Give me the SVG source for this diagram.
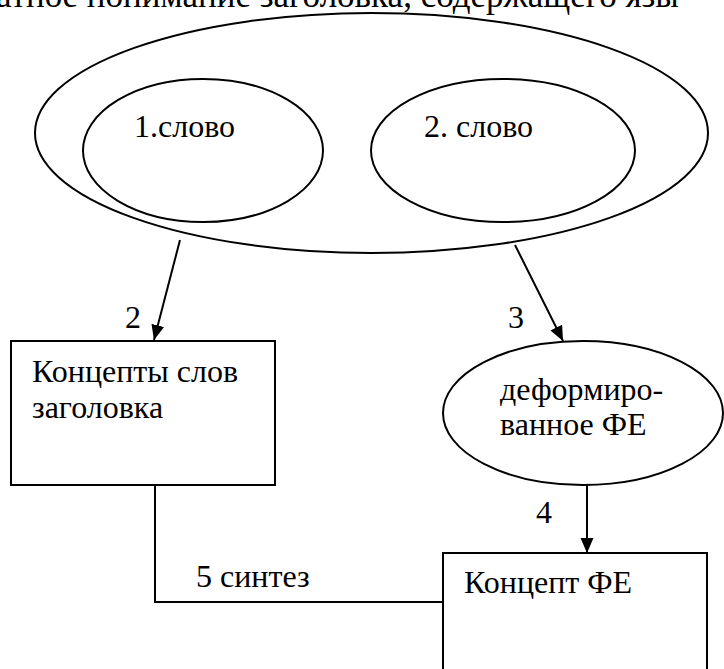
<svg xmlns="http://www.w3.org/2000/svg" width="724" height="669" viewBox="0 0 724 669">
<defs>
<marker id="ah" markerUnits="userSpaceOnUse" markerWidth="16" markerHeight="16" viewBox="0 0 16 16" refX="15" refY="8" orient="auto">
<path d="M0,1.5 L15,8 L0,14.5 Z" fill="#000"/>
</marker>
</defs>
<rect width="724" height="669" fill="#fff"/>
<text id="title" x="-4" y="7" font-family="Times New Roman" font-size="35">атное понимание заголовка, содержащего язы</text>
<g stroke="#000" stroke-width="2">
<g id="headline" fill="none">
<ellipse cx="371.5" cy="133" rx="336.5" ry="120"/>
</g>
<g id="word1" fill="none">
<ellipse cx="203" cy="150.5" rx="120" ry="71.5"/>
</g>
<g id="word2" fill="none">
<ellipse cx="503" cy="150.5" rx="132" ry="71.5"/>
</g>
<g id="concepts" fill="#fff">
<rect x="11" y="341" width="264" height="144"/>
</g>
<g id="deformed" fill="#fff">
<ellipse cx="583" cy="413" rx="140" ry="72"/>
</g>
<g id="conceptFE" fill="#fff">
<rect x="443" y="553" width="264" height="144"/>
</g>
<g id="connectors" fill="none">
<line x1="180" y1="240" x2="154" y2="340" marker-end="url(#ah)"/>
<line x1="515" y1="245" x2="563" y2="341" marker-end="url(#ah)"/>
<line x1="587" y1="485" x2="587" y2="553" marker-end="url(#ah)"/>
<polyline points="155,485 155,602 443,602"/>
</g>
</g>
<text x="134" y="137" font-family="Times New Roman" font-size="32">1.слово</text>
<text x="424" y="137" font-family="Times New Roman" font-size="32">2. слово</text>
<text x="32" y="382" font-family="Times New Roman" font-size="32">Концепты слов</text>
<text x="32" y="418" font-family="Times New Roman" font-size="32">заголовка</text>
<text x="500" y="400" font-family="Times New Roman" font-size="32">деформиро-</text>
<text x="500" y="435" font-family="Times New Roman" font-size="32">ванное ФЕ</text>
<text x="464" y="593" font-family="Times New Roman" font-size="32">Концепт ФЕ</text>
<text x="125" y="328" font-family="Times New Roman" font-size="32">2</text>
<text x="508" y="328" font-family="Times New Roman" font-size="32">3</text>
<text x="536" y="523" font-family="Times New Roman" font-size="32">4</text>
<text x="196" y="587" font-family="Times New Roman" font-size="32">5 синтез</text>
</svg>
